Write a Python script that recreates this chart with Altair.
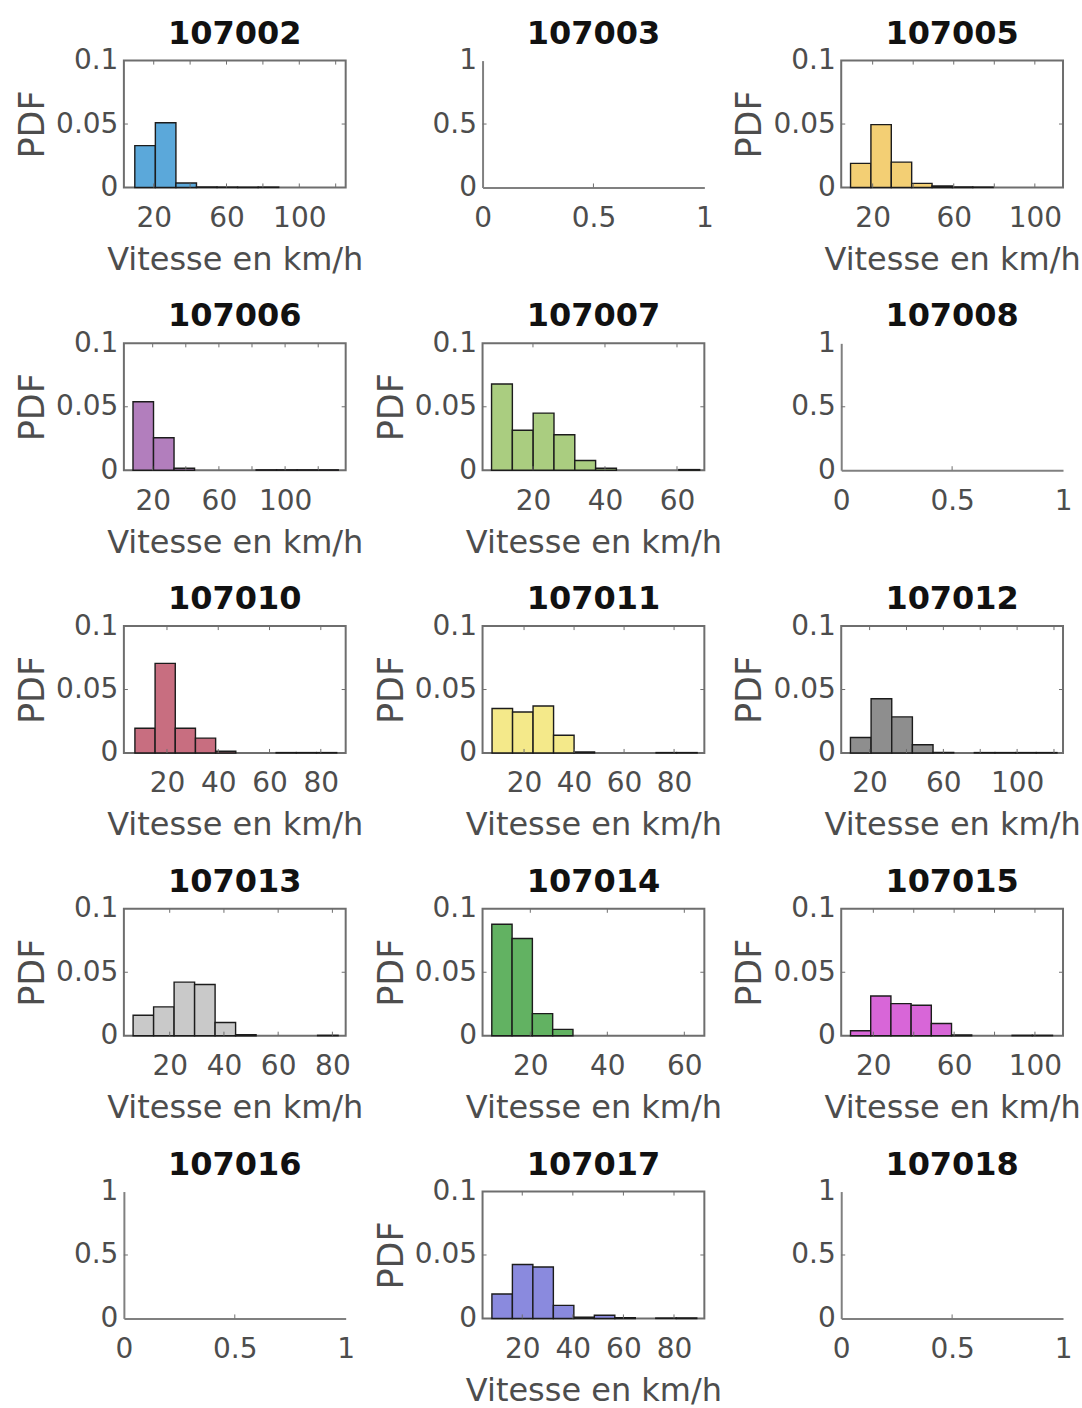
import altair as alt
import pandas as pd

# ---------------- data ----------------
panel_ids = ["107002", "107003", "107005",
             "107006", "107007", "107008",
             "107010", "107011", "107012",
             "107013", "107014", "107015",
             "107016", "107017", "107018"]

hist_ids = ["107002", "107005", "107006", "107007", "107010", "107011",
            "107012", "107013", "107014", "107015", "107017"]
hist_colors = ["#5ba8da", "#f3cf74", "#b27ebd", "#aacd80", "#c86e80", "#f4e98a",
               "#8e8e8e", "#c9c9c9", "#62b262", "#d866d8", "#8a8ade"]
x_min = [3.6, 4.5, 2.6, 6.0, 3.2, 3.4, 4.6, 3.1, 7.6, 4.1, 4.3]
x_max = [125.5, 113.9, 136.6, 67.6, 89.7, 92.1, 124.9, 84.9, 65.2, 113.9, 92.0]
bin_start = [9.6, 9.1, 8.1, 8.5, 7.5, 7.2, 9.6, 6.5, 10.0, 8.7, 8.0]
bin_width = [11.3, 10.05, 12.4, 5.78, 7.87, 8.2, 11.2, 7.56, 5.27, 10.0, 8.1]

pdf_107002 = [0.033, 0.051, 0.0035, 0.0004, 0.0003, 0.0003, 0.0003]
pdf_107005 = [0.019, 0.0495, 0.020, 0.0032, 0.0012, 0.0004, 0.0003]
pdf_107006 = [0.054, 0.0256, 0.0015, 0, 0, 0, 0.0003, 0.0003, 0.0003, 0.0003]
pdf_107007 = [0.068, 0.0315, 0.045, 0.028, 0.0077, 0.0015, 0, 0, 0, 0.0005]
pdf_107010 = [0.0195, 0.0706, 0.0195, 0.0117, 0.0013, 0, 0, 0.0003, 0.0003, 0.0003]
pdf_107011 = [0.035, 0.0323, 0.037, 0.014, 0.0008, 0, 0, 0, 0.0003, 0.0003]
pdf_107012 = [0.0122, 0.0427, 0.0284, 0.0065, 0.0004, 0, 0.0003, 0.0003, 0.0003, 0.0003]
pdf_107013 = [0.0161, 0.0227, 0.0422, 0.0404, 0.0104, 0.0008, 0, 0, 0, 0.0003]
pdf_107014 = [0.0878, 0.0766, 0.0174, 0.005]
pdf_107015 = [0.0039, 0.0313, 0.0253, 0.024, 0.0096, 0.0005, 0, 0, 0.0003, 0.0003]
pdf_107017 = [0.0193, 0.0425, 0.0405, 0.0103, 0.001, 0.0025, 0.0005, 0, 0.0003, 0.0003]
pdf_values = [pdf_107002, pdf_107005, pdf_107006, pdf_107007, pdf_107010, pdf_107011,
              pdf_107012, pdf_107013, pdf_107014, pdf_107015, pdf_107017]

x_label_values = [[20, 60, 100], [20, 60, 100], [20, 60, 100], [20, 40, 60],
                  [20, 40, 60, 80], [20, 40, 60, 80], [20, 60, 100], [20, 40, 60, 80],
                  [20, 40, 60], [20, 60, 100], [20, 40, 60, 80]]
x_tick_values = [[20, 40, 60, 80, 100, 120], [20, 40, 60, 80, 100],
                 [20, 40, 60, 80, 100, 120], [20, 40, 60],
                 [20, 40, 60, 80], [20, 40, 60, 80], [20, 40, 60, 80, 100, 120],
                 [20, 40, 60, 80], [20, 40, 60], [20, 40, 60, 80, 100], [20, 40, 60, 80]]
y_label_values = [0, 0.05, 0.1]
y_tick_values = [0.05]
empty_label_values = [0, 0.5, 1]
empty_tick_values = [0.5]

x_title = "Vitesse en km/h"
y_title = "PDF"

# ---------------- style ----------------
W, H = 222, 127
AX = "#6e6e6e"
LBL = "#4d4d4d"
FONT = "DejaVu Sans"
TICK_FS = 28
XTITLE_FS = 32
YTITLE_FS = 35


def panel_title(name):
    return alt.TitleParams(text=name, font=FONT, fontSize=32, fontWeight="bold",
                           color="#111111", anchor="middle", frame="group",
                           baseline="alphabetic", offset=-29)


def hist_panel(i):
    rows = []
    for k, v in enumerate(pdf_values[i]):
        if v > 0:
            s = bin_start[i] + k * bin_width[i]
            rows.append({"start": s, "end": s + bin_width[i], "pdf": v, "base": 0})
    df = pd.DataFrame(rows)
    xs = alt.Scale(domain=[x_min[i], x_max[i]], nice=False, zero=False)
    ys = alt.Scale(domain=[0, 0.1], nice=False, zero=False)
    x_axis = alt.Axis(
        values=x_label_values[i], title=x_title, tickSize=0, domain=False,
        grid=False, labelFlush=False, labelOverlap=False, labelPadding=17,
        titlePadding=12, labelFont=FONT, labelFontSize=TICK_FS, labelColor=LBL,
        titleFont=FONT, titleFontSize=XTITLE_FS, titleFontWeight="normal",
        titleColor=LBL)
    y_axis = alt.Axis(
        values=y_label_values, format="~g", title=y_title, tickSize=0,
        domain=False, grid=False, labelOverlap=False, labelPadding=6,
        titlePadding=5, labelFont=FONT, labelFontSize=TICK_FS, labelColor=LBL,
        titleFont=FONT, titleFontSize=YTITLE_FS, titleFontWeight="normal",
        titleColor=LBL)
    bars = alt.Chart(df).mark_rect(color=hist_colors[i], stroke="#1c1c1c",
                                   strokeWidth=1.4).encode(
        x=alt.X("start:Q", scale=xs, axis=x_axis),
        x2="end:Q",
        y=alt.Y("pdf:Q", scale=ys, axis=y_axis),
        y2="base:Q",
    )
    xt = pd.DataFrame({"t": x_tick_values[i]})
    yt = pd.DataFrame({"t": y_tick_values})
    bottom = alt.Chart(xt).mark_rule(color=AX, strokeWidth=1).encode(
        x=alt.X("t:Q", scale=xs, axis=x_axis), y=alt.value(H), y2=alt.value(H - 4))
    top = alt.Chart(xt).mark_rule(color=AX, strokeWidth=1).encode(
        x=alt.X("t:Q", scale=xs, axis=x_axis), y=alt.value(0), y2=alt.value(4))
    left = alt.Chart(yt).mark_rule(color=AX, strokeWidth=1).encode(
        y=alt.Y("t:Q", scale=ys, axis=y_axis), x=alt.value(0), x2=alt.value(4))
    right = alt.Chart(yt).mark_rule(color=AX, strokeWidth=1).encode(
        y=alt.Y("t:Q", scale=ys, axis=y_axis), x=alt.value(W - 4), x2=alt.value(W))
    return alt.layer(bars, bottom, top, left, right).properties(
        width=W, height=H, title=panel_title(hist_ids[i]))


def empty_panel(name):
    df = pd.DataFrame({"t": empty_tick_values})
    sc = alt.Scale(domain=[0, 1], nice=False, zero=False)
    common = dict(values=empty_label_values, format="~g", tickSize=0, domain=True,
                  domainColor="#808080", domainWidth=2, grid=False, labelOverlap=False,
                  labelFont=FONT, labelFontSize=TICK_FS, labelColor=LBL)
    rx = alt.Chart(df).mark_rule(color=AX, strokeWidth=1).encode(
        x=alt.X("t:Q", scale=sc, title=None,
                axis=alt.Axis(labelFlush=False, labelPadding=17, **common)),
        y=alt.value(H), y2=alt.value(H - 4))
    ry = alt.Chart(df).mark_rule(color=AX, strokeWidth=1).encode(
        y=alt.Y("t:Q", scale=sc, title=None,
                axis=alt.Axis(labelPadding=6, **common)),
        x=alt.value(0), x2=alt.value(4))
    return alt.layer(rx, ry).properties(
        width=W, height=H, title=panel_title(name),
        view=alt.ViewBackground(stroke="transparent"))


panels = []
for pid in panel_ids:
    if pid in hist_ids:
        panels.append(hist_panel(hist_ids.index(pid)))
    else:
        panels.append(empty_panel(pid))

chart = alt.concat(
    *panels, columns=3, spacing={"row": 156, "column": 137}, bounds="flush"
).properties(
    padding={"left": 14, "top": 16, "right": 0, "bottom": 6},
    background="white",
).configure_view(stroke=AX, strokeWidth=2)

chart.save("out.html", embed_options={"renderer": "svg", "actions": False})
